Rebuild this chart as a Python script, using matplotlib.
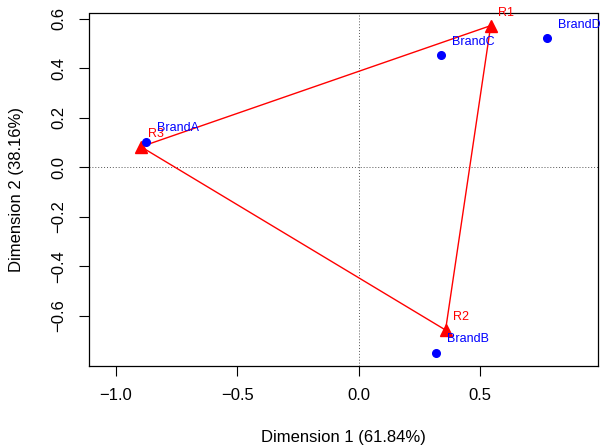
import matplotlib
matplotlib.use("Agg")
import matplotlib.pyplot as plt

plt.rcParams['font.family'] = ['Liberation Sans', 'DejaVu Sans']

# Column points (brands)
brands = ["BrandA", "BrandB", "BrandC", "BrandD"]
brand_x = [-0.878, 0.318, 0.339, 0.775]
brand_y = [0.103, -0.748, 0.453, 0.521]

# Row points (R1..R3)
rows = ["R1", "R2", "R3"]
row_x = [0.544, 0.358, -0.897]
row_y = [0.572, -0.657, 0.083]

xticks = [-1.0, -0.5, 0.0, 0.5]
yticks = [-0.6, -0.4, -0.2, 0.0, 0.2, 0.4, 0.6]
xlabel = "Dimension 1 (61.84%)"
ylabel = "Dimension 2 (38.16%)"

fig = plt.figure(figsize=(6.15, 4.48), dpi=100)
ax = fig.add_axes([88.5 / 615, 1 - 365.7 / 448, (598 - 88.5) / 615, (365.7 - 13.5) / 448])

ax.set_xlim(-1.113, 0.986)
ax.set_ylim(-0.801, 0.621)

ax.axhline(0, color="#555555", linestyle=(0, (1, 2)), lw=0.7, zorder=1)
ax.axvline(0, color="#555555", linestyle=(0, (1, 2)), lw=0.7, zorder=1)

# closed polygon of row points
px = row_x + [row_x[0]]
py = row_y + [row_y[0]]
ax.plot(px, py, color="#FF0000", lw=1.0, zorder=2)
ax.plot(row_x, row_y, linestyle="none", marker="^", color="#FF0000", markersize=8, zorder=3)
ax.plot(brand_x, brand_y, linestyle="none", marker="o", color="#0000FF", markersize=5.5, zorder=3)

for name, x, y in zip(rows, row_x, row_y):
    ax.annotate(name, (x, y), xytext=(5.4, 9.4), textcoords="offset points",
                ha="left", va="center", color="#FF0000", fontsize=9)
for name, x, y in zip(brands, brand_x, brand_y):
    ax.annotate(name, (x, y), xytext=(8.3, 9.6), textcoords="offset points",
                ha="left", va="center", color="#0000FF", fontsize=9)

ax.set_xticks(xticks)
ax.set_yticks(yticks)
ax.set_xticklabels([f"{v:.1f}".replace("-", "\u2212") for v in xticks])
ax.set_yticklabels([f"{v:.1f}".replace("-", "\u2212") for v in yticks], rotation=90, va="center")
ax.tick_params(axis="both", direction="out", length=7.2, width=0.8, labelsize=12, pad=8.5)

for s in ax.spines.values():
    s.set_linewidth(0.9)

ax.set_xlabel(xlabel, fontsize=12, va="center")
ax.set_ylabel(ylabel, fontsize=12, va="center")
ax.xaxis.set_label_coords(0.5, -(437 - 365.7) / 352.2)
ax.yaxis.set_label_coords((17 - 88.5) / 509.5, 0.5)

fig.savefig("out.png", dpi=100)
